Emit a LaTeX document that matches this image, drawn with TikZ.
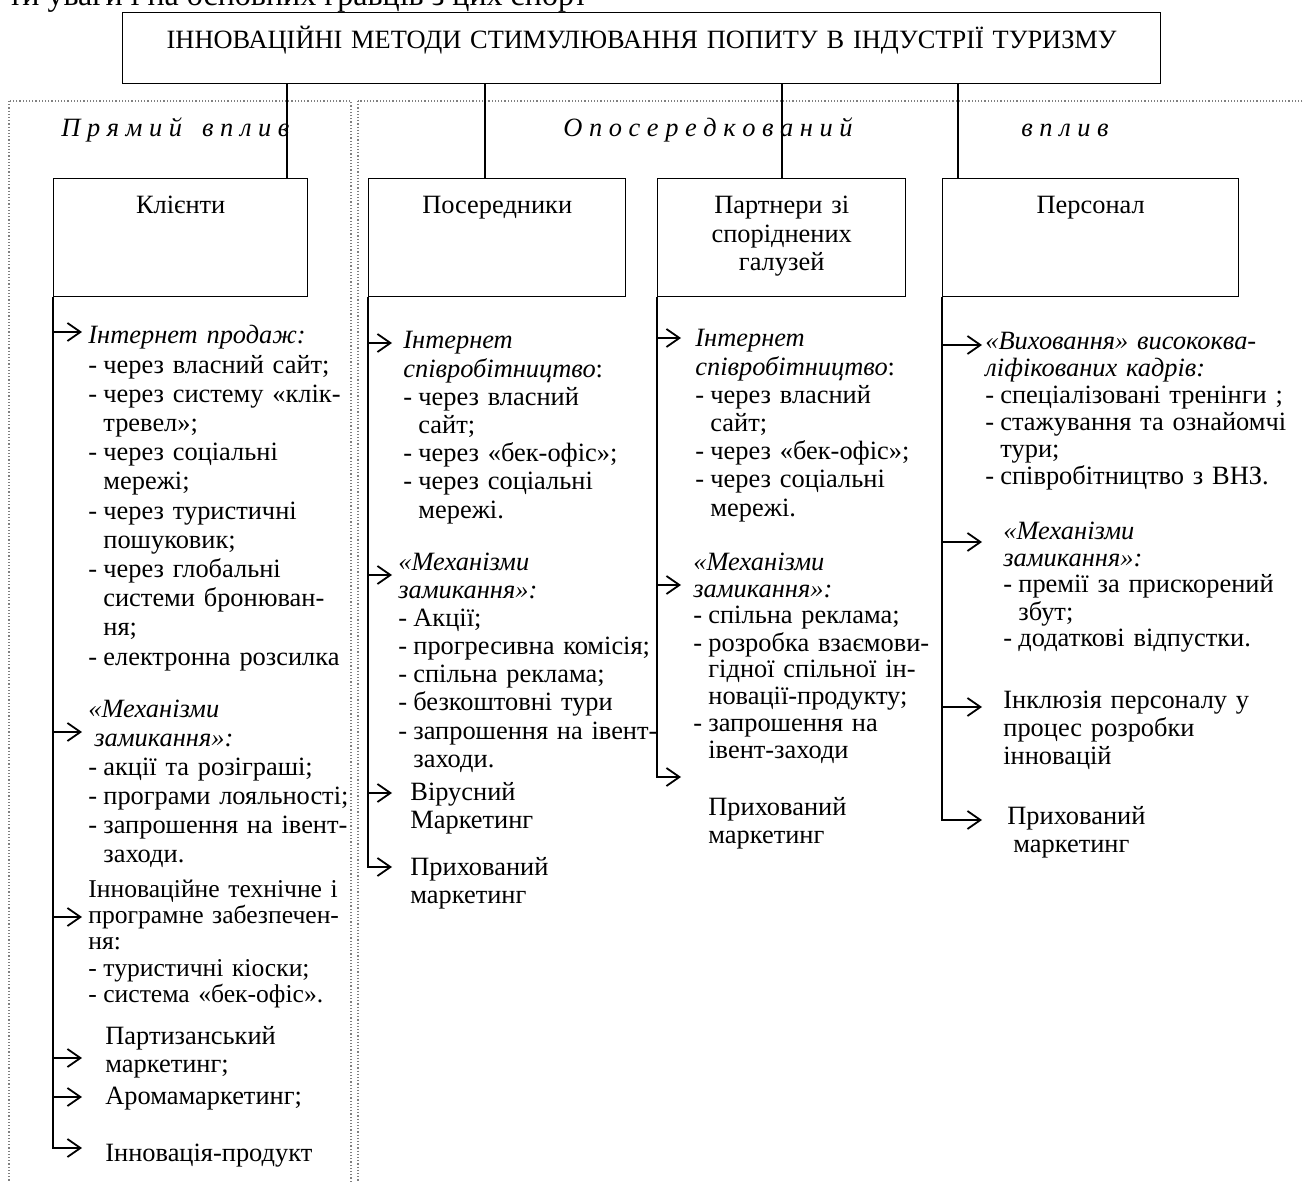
\documentclass[tikz,border=0pt]{standalone}
\usepackage{fontspec}
\setmainfont{Liberation Serif}
\usetikzlibrary{arrows.meta}

% dash of a list item and indent of its next lines
\newcommand{\bul}{\makebox[7.5pt][l]{-}}
\newcommand{\hng}{\hspace*{7.5pt}}

\begin{document}
\begin{tikzpicture}[x=0.5pt, y=-0.5pt,
  every node/.style={font=\fontsize{13.2}{14.2}\selectfont, inner sep=0pt},
  box/.style={draw, line width=0.7pt},
  sub/.style={box, anchor=north west, minimum height=59pt, align=center,
    text height=9.5pt, text depth=33.5pt},
  txt/.style={anchor=base west, text width=175pt, align=left},
  sect/.style={anchor=base west, font=\fontsize{13.2}{14}\selectfont\itshape},
  arr/.style={-{Straight Barb[length=6.5pt,width=9pt]}, line width=0.9pt},
  link/.style={line width=0.9pt},
  frame/.style={densely dotted, gray, line width=0.6pt}]
\useasboundingbox (0,0) rectangle (1303,1182);
\clip (0,0) rectangle (1303,1182);

% Page text above the scheme
\node[anchor=base west, font=\fontsize{16}{16}\selectfont] (pagetext) at (8,6) {ти уваги і на основних гравців з цих спорт};

% Title
\node[box, anchor=north west, text width=519pt, align=center, minimum height=35.5pt,
  text height=9.5pt, text depth=9pt] (title) at (122,12)
  {ІННОВАЦІЙНІ МЕТОДИ СТИМУЛЮВАННЯ ПОПИТУ В ІНДУСТРІЇ ТУРИЗМУ};

% Dotted frames
\draw[frame] (9,101) rectangle (351,1200);
\draw[frame] (358,101) rectangle (1320,1200);
\node[sect] (direct) at (61,137) {П р я м и й\hspace{10pt}в п л и в};
\node[sect] (indirect) at (563,137) {О п о с е р е д к о в а н и й};
\node[sect] (indirect2) at (1021,137) {в п л и в};

% Boxes
\node[sub, text width=127pt] (clients) at (53,178) {Клієнти};
\node[sub, text width=128.5pt] (agents) at (368,178) {Посередники};
\node[sub, text width=124pt] (partners) at (657,178) {Партнери зі\\ споріднених\\ галузей};
\node[sub, text width=148pt] (staff) at (942,178) {Персонал};

% Links from the title
\coordinate (v1) at (287,0);
\coordinate (v2) at (485,0);
\coordinate (v3) at (782,0);
\coordinate (v4) at (958,0);
\draw[link] (title.south -| v1) -- (clients.north -| v1);
\draw[link] (title.south -| v2) -- (agents.north -| v2);
\draw[link] (title.south -| v3) -- (partners.north -| v3);
\draw[link] (title.south -| v4) -- (staff.north -| v4);

% Clients
\node[txt, font=\fontsize{13.2}{14.6}\selectfont] (k1) at (88,344) {\textit{Інтернет продаж:}\\
  \bul через власний сайт;\\ \bul через систему «клік-\\ \hng тревел»;\\
  \bul через соціальні\\ \hng мережі;\\ \bul через туристичні\\ \hng пошуковик;\\
  \bul через глобальні\\ \hng системи бронюван-\\ \hng ня;\\ \bul електронна розсилка};
\node[txt, font=\fontsize{13.2}{14.6}\selectfont] (k2) at (88,717) {\textit{«Механізми}\\
  \textit{\hspace*{3pt}замикання»:}\\ \bul акції та розіграші;\\ \bul програми лояльності;\\
  \bul запрошення на івент-\\ \hng заходи.};
\node[txt, font=\fontsize{12.8}{13.2}\selectfont] (k3) at (88,897) {Інноваційне технічне і\\
  програмне забезпечен-\\ ня:\\ \bul туристичні кіоски;\\ \bul система «бек-офіс».};
\node[txt] (k4) at (105,1044) {Партизанський\\ маркетинг;};
\node[txt] (k5) at (105,1104) {Аромамаркетинг;};
\node[txt] (k6) at (105,1161) {Інновація-продукт};
\coordinate (kt1) at (82,332);
\coordinate (kt2) at (82,732);
\coordinate (kt3) at (82,917);
\coordinate (kt4) at (82,1058);
\coordinate (kt5) at (82,1097);
\coordinate (kt6) at (82,1148);
\draw[arr] (clients.south west) |- (kt6);
\foreach \t in {kt1,kt2,kt3,kt4,kt5}
  \draw[arr] (clients.south west |- \t) -- (\t);

% Agents
\node[txt, font=\fontsize{13.2}{14.1}\selectfont] (p1) at (403,349) {\textit{Інтернет}\\
  \textit{співробітництво}:\\ \bul через власний\\ \hng сайт;\\ \bul через «бек-офіс»;\\
  \bul через соціальні\\ \hng мережі.};
\node[txt, font=\fontsize{13.2}{14.1}\selectfont] (p2) at (398,570) {\textit{«Механізми}\\
  \textit{замикання»:}\\ \bul Акції;\\ \bul прогресивна комісія;\\ \bul спільна реклама;\\
  \bul безкоштовні тури\\ \bul запрошення на івент-\\ \hng заходи.};
\node[txt] (p3) at (410,800) {Вірусний\\ Маркетинг};
\node[txt] (p4) at (410,875) {Прихований\\ маркетинг};
\coordinate (pt1) at (392,343);
\coordinate (pt2) at (392,575);
\coordinate (pt3) at (392,793);
\coordinate (pt4) at (392,867);
\draw[arr] (agents.south west) |- (pt4);
\foreach \t in {pt1,pt2,pt3}
  \draw[arr] (agents.south west |- \t) -- (\t);

% Partners
\node[txt, font=\fontsize{13.2}{14.1}\selectfont] (r1) at (695,347) {\textit{Інтернет}\\
  \textit{співробітництво}:\\ \bul через власний\\ \hng сайт;\\ \bul через «бек-офіс»;\\
  \bul через соціальні\\ \hng мережі.};
\node[txt, font=\fontsize{13.2}{13.5}\selectfont] (r2) at (693,570) {\textit{«Механізми}\\
  \textit{замикання»:}\\ \bul спільна реклама;\\ \bul розробка взаємови-\\
  \hng гідної спільної ін-\\ \hng новації-продукту;\\ \bul запрошення на\\ \hng івент-заходи};
\node[txt] (r3) at (708,815) {Прихований\\ маркетинг};
\coordinate (rt1) at (681,338);
\coordinate (rt2) at (681,585);
\coordinate (rt3) at (681,777);
\draw[arr] (partners.south west) |- (rt3);
\foreach \t in {rt1,rt2}
  \draw[arr] (partners.south west |- \t) -- (\t);

% Staff
\node[txt, font=\fontsize{13.2}{13.5}\selectfont] (s1) at (985,350) {\textit{«Виховання» висококва-}\\
  \textit{ліфікованих кадрів:}\\ \bul спеціалізовані тренінги ;\\
  \bul стажування та ознайомчі\\ \hng тури;\\ \bul співробітництво з ВНЗ.};
\node[txt, font=\fontsize{13.2}{13.5}\selectfont] (s2) at (1003,539) {\textit{«Механізми}\\
  \textit{замикання»:}\\ \bul премії за прискорений\\ \hng збут;\\ \bul додаткові відпустки.};
\node[txt] (s3) at (1003,708) {Інклюзія персоналу у\\ процес розробки\\ інновацій};
\node[txt] (s4) at (1007,824) {Прихований\\ \hspace*{3pt}маркетинг};
\coordinate (st1) at (982,345);
\coordinate (st2) at (982,542);
\coordinate (st3) at (982,707);
\coordinate (st4) at (982,820);
\draw[arr] (staff.south west) |- (st4);
\foreach \t in {st1,st2,st3}
  \draw[arr] (staff.south west |- \t) -- (\t);
\end{tikzpicture}
\end{document}
